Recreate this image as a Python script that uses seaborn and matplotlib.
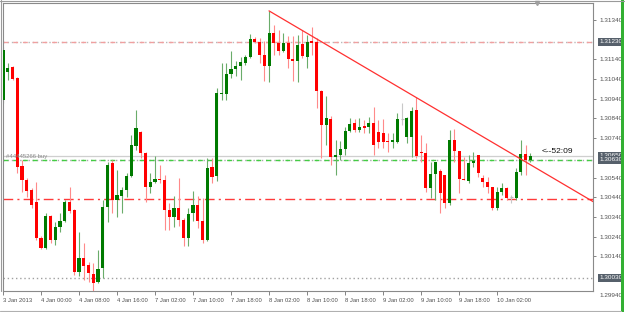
import numpy as np
import pandas as pd
import matplotlib
matplotlib.use("Agg")
import matplotlib.pyplot as plt
import seaborn as sns
from matplotlib.transforms import blended_transform_factory
from matplotlib.lines import Line2D
from matplotlib.patches import Rectangle

# ---------------- data (EURUSD-like H1 candles) ----------------
opens = [1.30934, 1.31076, 1.31101, 1.31045, 1.30599, 1.30527, 1.30476, 1.30416, 1.30232, 1.30181,
         1.30345, 1.30222, 1.30288, 1.30319, 1.30416, 1.30375, 1.30060, 1.30131, 1.30096, 1.30050,
         1.30009, 1.30080, 1.30390, 1.30614, 1.30426, 1.30446, 1.30476, 1.30548, 1.30700, 1.30771,
         1.30665, 1.30491, 1.30517, 1.30532, 1.30527, 1.30375, 1.30340, 1.30385, 1.30324, 1.30232,
         1.30360, 1.30401, 1.30319, 1.30222, 1.30593, 1.30548, 1.30964, 1.30964, 1.31066, 1.31091,
         1.31107, 1.31122, 1.31152, 1.31243, 1.31228, 1.31163, 1.31107, 1.31274, 1.31223, 1.31183,
         1.31223, 1.31142, 1.31132, 1.31218, 1.31152, 1.31233, 1.31228, 1.30979, 1.30807, 1.30837,
         1.30644, 1.30655, 1.30685, 1.30776, 1.30817, 1.30781, 1.30802, 1.30797, 1.30817, 1.30771,
         1.30766, 1.30725, 1.30720, 1.30720, 1.30837, 1.30746, 1.30746, 1.30883, 1.30670, 1.30665,
         1.30486, 1.30558, 1.30573, 1.30553, 1.30411, 1.30730, 1.30675, 1.30532, 1.30522, 1.30614,
         1.30655, 1.30537, 1.30517, 1.30491, 1.30385, 1.30466, 1.30486, 1.30440, 1.30436, 1.30568,
         1.30660, 1.30629]
highs = [1.31203, 1.31122, 1.31107, 1.31050, 1.30629, 1.30537, 1.30486, 1.30517, 1.30243, 1.30360,
         1.30350, 1.30314, 1.30360, 1.30426, 1.30491, 1.30380, 1.30263, 1.30207, 1.30111, 1.30106,
         1.30172, 1.30426, 1.30619, 1.30629, 1.30578, 1.30491, 1.30563, 1.30756, 1.30883, 1.30776,
         1.30670, 1.30563, 1.30650, 1.30604, 1.30553, 1.30411, 1.30446, 1.30537, 1.30334, 1.30385,
         1.30471, 1.30446, 1.30436, 1.30639, 1.30639, 1.30994, 1.31122, 1.31122, 1.31183, 1.31132,
         1.31152, 1.31163, 1.31268, 1.31253, 1.31248, 1.31233, 1.31386, 1.31315, 1.31289, 1.31274,
         1.31259, 1.31259, 1.31264, 1.31289, 1.31264, 1.31304, 1.31248, 1.30984, 1.30954, 1.30852,
         1.30730, 1.30725, 1.30797, 1.30842, 1.30837, 1.30842, 1.30832, 1.30847, 1.30898, 1.30832,
         1.30837, 1.30766, 1.30766, 1.30868, 1.30919, 1.30847, 1.30898, 1.30949, 1.30756, 1.30715,
         1.30619, 1.30619, 1.30583, 1.30553, 1.30781, 1.30786, 1.30675, 1.30644, 1.30655, 1.30670,
         1.30655, 1.30553, 1.30542, 1.30491, 1.30491, 1.30512, 1.30491, 1.30451, 1.30588, 1.30730,
         1.30705, 1.30665]
lows = [1.30919, 1.31035, 1.31035, 1.30563, 1.30466, 1.30440, 1.30385, 1.30222, 1.30176, 1.30176,
        1.30207, 1.30197, 1.30263, 1.30314, 1.30360, 1.30045, 1.30040, 1.30019, 1.30009, 1.29958,
        1.30004, 1.30029, 1.30314, 1.30360, 1.30340, 1.30360, 1.30440, 1.30542, 1.30680, 1.30639,
        1.30416, 1.30461, 1.30512, 1.30512, 1.30273, 1.30273, 1.30288, 1.30293, 1.30192, 1.30192,
        1.30319, 1.30283, 1.30207, 1.30217, 1.30512, 1.30522, 1.30934, 1.30934, 1.31045, 1.31055,
        1.31035, 1.31112, 1.31147, 1.31223, 1.31122, 1.31030, 1.31025, 1.31163, 1.31163, 1.31178,
        1.31096, 1.31030, 1.31025, 1.31147, 1.31096, 1.31163, 1.30893, 1.30639, 1.30705, 1.30604,
        1.30553, 1.30629, 1.30655, 1.30771, 1.30771, 1.30771, 1.30766, 1.30766, 1.30655, 1.30690,
        1.30690, 1.30670, 1.30690, 1.30715, 1.30807, 1.30715, 1.30644, 1.30639, 1.30619, 1.30466,
        1.30436, 1.30426, 1.30360, 1.30385, 1.30401, 1.30619, 1.30461, 1.30527, 1.30512, 1.30593,
        1.30542, 1.30491, 1.30461, 1.30375, 1.30375, 1.30451, 1.30426, 1.30411, 1.30426, 1.30553,
        1.30553, 1.30619]
closes = [1.31188, 1.31096, 1.31040, 1.30593, 1.30527, 1.30471, 1.30401, 1.30232, 1.30181, 1.30345,
          1.30222, 1.30288, 1.30319, 1.30416, 1.30370, 1.30060, 1.30131, 1.30091, 1.30055, 1.30004,
          1.30075, 1.30390, 1.30604, 1.30426, 1.30451, 1.30476, 1.30548, 1.30705, 1.30791, 1.30665,
          1.30491, 1.30517, 1.30532, 1.30527, 1.30375, 1.30340, 1.30385, 1.30324, 1.30232, 1.30355,
          1.30401, 1.30319, 1.30222, 1.30588, 1.30542, 1.30969, 1.30969, 1.31066, 1.31091, 1.31107,
          1.31127, 1.31152, 1.31243, 1.31228, 1.31163, 1.31107, 1.31274, 1.31223, 1.31183, 1.31223,
          1.31142, 1.31132, 1.31213, 1.31158, 1.31228, 1.31223, 1.30979, 1.30807, 1.30842, 1.30644,
          1.30655, 1.30685, 1.30776, 1.30812, 1.30781, 1.30797, 1.30791, 1.30817, 1.30705, 1.30720,
          1.30720, 1.30720, 1.30730, 1.30837, 1.30837, 1.30842, 1.30878, 1.30650, 1.30665, 1.30486,
          1.30558, 1.30619, 1.30461, 1.30411, 1.30730, 1.30675, 1.30532, 1.30527, 1.30614, 1.30624,
          1.30563, 1.30517, 1.30491, 1.30385, 1.30466, 1.30486, 1.30436, 1.30440, 1.30568, 1.30660,
          1.30629, 1.30650]

xtick_bars = [0, 8, 16, 24, 32, 40, 48, 56, 64, 72, 80, 88, 96, 104]
xtick_labels = ["3 Jan 2013", "4 Jan 00:00", "4 Jan 08:00", "4 Jan 16:00", "7 Jan 02:00",
                "7 Jan 10:00", "7 Jan 18:00", "8 Jan 02:00", "8 Jan 10:00", "8 Jan 18:00",
                "9 Jan 02:00", "9 Jan 10:00", "9 Jan 18:00", "10 Jan 02:00"]
ytick_values = [1.31340, 1.31140, 1.31040, 1.30940, 1.30840, 1.30740, 1.30540,
                1.30440, 1.30340, 1.30240, 1.30140]
ytick_below = 1.29940
tp_level = 1.31230
bid_level = 1.30650
buy_level = 1.30630
sl_level = 1.30430
low_level = 1.30030
trend_anchor_bars = [56, 87]
trend_anchor_prices = [1.31386, 1.30946]
order_label = "#44445266 buy"
timer_label = "<--52:09"

# ---------------- style ----------------
sns.set_theme(style="white")
plt.rcParams["font.family"] = ["Liberation Sans", "DejaVu Sans"]

W, H = 625, 312
fig = plt.figure(figsize=(W / 100, H / 100), dpi=100)
fig.patch.set_facecolor("white")
ax = fig.add_axes([3 / W, 1 - 291 / H, 590 / W, 288 / H])
ax.set_facecolor("white")

df = pd.DataFrame({"o": opens, "h": highs, "l": lows, "c": closes})
df["bar"] = np.arange(len(df))
df["kind"] = np.where(df.c > df.o, "up", np.where(df.c < df.o, "down", "flat"))
body_col = {"up": "#007a00", "down": "#ff0000", "flat": "#bdbdbd"}
wick_col = {"up": "#6aac6a", "down": "#ff8a8a", "flat": "#c8c8c8"}

# horizontal levels
ax.axhline(bid_level, color="#cfcfcf", lw=0.9, zorder=1)
ax.axhline(buy_level, color="#a8a8a8", lw=1.0, ls=(0, (1, 2)), zorder=1)
ax.axhline(buy_level, color="#44cc44", lw=1.0, ls=(0, (3.5, 3.5)), zorder=1)
ax.axhline(tp_level, color="#b8b8b8", lw=1.0, ls=(0, (1, 2)), zorder=1)
ax.axhline(tp_level, color="#f0a0a0", lw=1.0, ls=(0, (3.5, 3.5)), zorder=1)
ax.axhline(sl_level, color="#ff3a3a", lw=1.0, ls=(0, (7, 3, 1.5, 3)), zorder=1)
ax.axhline(low_level, color="#a0a0a0", lw=1.0, ls=(0, (1, 2)), zorder=1)

# candles
ax.vlines(df.bar, df.l, df.h, colors=[wick_col[k] for k in df.kind], lw=0.8, zorder=2)
bw = 0.64
solid = df[df.kind != "flat"]
ax.bar(solid.bar, (solid.c - solid.o).abs().clip(lower=0.00003),
       bottom=np.minimum(solid.o, solid.c), width=bw,
       color=[body_col[k] for k in solid.kind], linewidth=0, zorder=3)
flat = df[df.kind == "flat"]
ax.hlines(flat.o, flat.bar - bw / 2, flat.bar + bw / 2, colors=body_col["flat"], lw=0.8, zorder=3)

# trend line (ray from first anchor to the right)
x_end = 125.0
slope = (trend_anchor_prices[1] - trend_anchor_prices[0]) / (trend_anchor_bars[1] - trend_anchor_bars[0])
tr = pd.DataFrame({"x": [trend_anchor_bars[0], x_end],
                   "y": [trend_anchor_prices[0], trend_anchor_prices[0] + slope * (x_end - trend_anchor_bars[0])]})
sns.lineplot(data=tr, x="x", y="y", color="#ff3030", lw=0.9, ax=ax, zorder=4)

# limits
ax.set_xlim(0, 124.2)
ax.set_ylim(1.29964, 1.31426)
ax.set_xlabel("")
ax.set_ylabel("")

# axes / ticks
for s in ax.spines.values():
    s.set_color("#8a8a8a")
    s.set_linewidth(0.8)
ax.yaxis.tick_right()
ax.set_yticks(ytick_values)
ax.set_yticklabels([f"{v:.5f}" for v in ytick_values])
ax.set_xticks(xtick_bars)
ax.set_xticklabels(xtick_labels, ha="left")
ax.tick_params(axis="y", right=True, left=False, labelright=True, labelleft=False,
               length=2.5, width=0.6, color="#707070", labelsize=4.6, labelcolor="#505050", pad=2)
ax.tick_params(axis="x", bottom=True, length=3, width=0.6, color="#707070",
               labelsize=4.2, labelcolor="#505050", pad=2)

yb = blended_transform_factory(ax.transAxes, ax.transData)
xlab = 1 + 6.5 / 590
ax.text(xlab, ytick_below, f"{ytick_below:.5f}", transform=yb, ha="left", va="center",
        fontsize=4.6, color="#505050", clip_on=False)
box = dict(boxstyle="square,pad=0.22", fc="#56606b", ec="none")
for lvl in [tp_level, bid_level, buy_level, low_level]:
    ax.text(xlab, lvl, f"{lvl:.5f}", transform=yb, ha="left", va="center",
            fontsize=4.6, color="white", bbox=box, clip_on=False, zorder=5)

# annotations
ax.text(0.6, buy_level + 0.00003, order_label, fontsize=4.3, color="#8c8c8c",
        ha="left", va="bottom", zorder=5)
ax.text(113.3, 1.30672, timer_label, fontsize=6, color="#111111", ha="left", va="center", zorder=5)
ax.plot([112.4], [1.0], transform=blended_transform_factory(ax.transData, ax.transAxes),
        marker="v", ms=3, color="#a0a0a0", clip_on=False, zorder=6)

# window frame details
fig.add_artist(Line2D([0, 1], [1 - 0.5 / H, 1 - 0.5 / H], color="#9a9a9a", lw=0.8))
fig.add_artist(Line2D([1.5 / W, 1.5 / W], [1 - 291 / H, 1], color="#9a9a9a", lw=0.8))
fig.add_artist(Line2D([0, 621 / W], [1.5 / H, 1.5 / H], color="#b0b0b0", lw=0.8))
fig.add_artist(Rectangle((621 / W, 0), 2.5 / W, 1, color="#33b033", lw=0))

fig.savefig("out.png", dpi=100)
